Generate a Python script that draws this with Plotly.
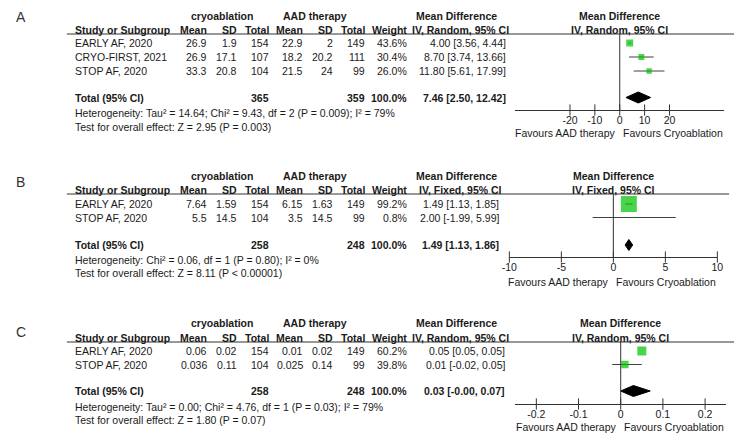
import plotly.graph_objects as go

W, H = 742, 442
FONT = "Liberation Sans, Arial, sans-serif"
TXT = "#1a1a1a"
GREEN = "#00c000"
FS = 10.5

# ---------------- data ----------------
# Panel A
A_studies = ["EARLY AF, 2020", "CRYO-FIRST, 2021", "STOP AF, 2020"]
A_cryo_mean = [26.9, 26.9, 33.3]
A_cryo_sd = [1.9, 17.1, 20.8]
A_cryo_n = [154, 107, 104]
A_aad_mean = [22.9, 18.2, 21.5]
A_aad_sd = [2, 20.2, 24]
A_aad_n = [149, 111, 99]
A_weight = [43.6, 30.4, 26.0]
A_md = [4.00, 8.70, 11.80]
A_lo = [3.56, 3.74, 5.61]
A_hi = [4.44, 13.66, 17.99]
A_total_n = [365, 359]
A_total_est = [7.46, 2.50, 12.42]
A_method = "IV, Random, 95% CI"
A_het = "Heterogeneity: Tau² = 14.64; Chi² = 9.43, df = 2 (P = 0.009); I² = 79%"
A_test = "Test for overall effect: Z = 2.95 (P = 0.003)"
A_ticks = [-20, -10, 0, 10, 20]

# Panel B
B_studies = ["EARLY AF, 2020", "STOP AF, 2020"]
B_cryo_mean = [7.64, 5.5]
B_cryo_sd = [1.59, 14.5]
B_cryo_n = [154, 104]
B_aad_mean = [6.15, 3.5]
B_aad_sd = [1.63, 14.5]
B_aad_n = [149, 99]
B_weight = [99.2, 0.8]
B_md = [1.49, 2.00]
B_lo = [1.13, -1.99]
B_hi = [1.85, 5.99]
B_total_n = [258, 248]
B_total_est = [1.49, 1.13, 1.86]
B_method = "IV, Fixed, 95% CI"
B_het = "Heterogeneity: Chi² = 0.06, df = 1 (P = 0.80); I² = 0%"
B_test = "Test for overall effect: Z = 8.11 (P < 0.00001)"
B_ticks = [-10, -5, 0, 5, 10]

# Panel C
C_studies = ["EARLY AF, 2020", "STOP AF, 2020"]
C_cryo_mean = [0.06, 0.036]
C_cryo_sd = [0.02, 0.11]
C_cryo_n = [154, 104]
C_aad_mean = [0.01, 0.025]
C_aad_sd = [0.02, 0.14]
C_aad_n = [149, 99]
C_weight = [60.2, 39.8]
C_md = [0.05, 0.01]
C_lo = [0.05, -0.02]
C_hi = [0.05, 0.05]
C_total_n = [258, 248]
C_total_est = [0.03, -0.0, 0.07]
C_method = "IV, Random, 95% CI"
C_het = "Heterogeneity: Tau² = 0.00; Chi² = 4.76, df = 1 (P = 0.03); I² = 79%"
C_test = "Test for overall effect: Z = 1.80 (P = 0.07)"
C_ticks = [-0.2, -0.1, 0, 0.1, 0.2]

favour_left = "Favours AAD therapy"
favour_right = "Favours Cryoablation"

# ---------------- panel configuration (data + layout) ----------------
panels = [
    dict(label="A", studies=A_studies, cm=A_cryo_mean, cs=A_cryo_sd, cn=A_cryo_n,
         am=A_aad_mean, asd=A_aad_sd, an=A_aad_n, w=A_weight, md=A_md, lo=A_lo, hi=A_hi,
         tn=A_total_n, te=A_total_est, method=A_method, het=A_het, test=A_test, ticks=A_ticks,
         ax="", y_lab=17, y_h1=16, y_h2=30, y_line=34, rows=[43, 57, 71],
         y_tot=97.5, y_het=113, y_test=127, y_axis=110, y_fav=133,
         dom=(517, 730), rng=(-42, 42), ci_right=508, line_right=740, k=1.06),
    dict(label="B", studies=B_studies, cm=B_cryo_mean, cs=B_cryo_sd, cn=B_cryo_n,
         am=B_aad_mean, asd=B_aad_sd, an=B_aad_n, w=B_weight, md=B_md, lo=B_lo, hi=B_hi,
         tn=B_total_n, te=B_total_est, method=B_method, het=B_het, test=B_test, ticks=B_ticks,
         ax="2", y_lab=182, y_h1=176, y_h2=190, y_line=194, rows=[204, 217.5],
         y_tot=245, y_het=260, y_test=273, y_axis=257, y_fav=282,
         dom=(511, 723), rng=(-10, 10), ci_right=500, line_right=735, k=1.6),
    dict(label="C", studies=C_studies, cm=C_cryo_mean, cs=C_cryo_sd, cn=C_cryo_n,
         am=C_aad_mean, asd=C_aad_sd, an=C_aad_n, w=C_weight, md=C_md, lo=C_lo, hi=C_hi,
         tn=C_total_n, te=C_total_est, method=C_method, het=C_het, test=C_test, ticks=C_ticks,
         ax="3", y_lab=332, y_h1=323, y_h2=338, y_line=342, rows=[351, 364.5],
         y_tot=391, y_het=407, y_test=420, y_axis=404, y_fav=427,
         dom=(517, 732), rng=(-0.25, 0.25), ci_right=507, line_right=740, k=1.16),
]

fig = go.Figure()
annotations = []
shapes = []
layout_axes = {}


def ann(text, x, y, anchor="left", bold=False, size=FS, xref="paper", xshift=0, color=TXT):
    if bold:
        text = "<b>" + text + "</b>"
    annotations.append(dict(
        text=text, x=(x / W if xref == "paper" else x), y=y, xref=xref, yref="y",
        xanchor=anchor, yanchor="middle", align=anchor, showarrow=False, xshift=xshift,
        borderpad=0, borderwidth=0,
        font=dict(family=FONT, size=size, color=color)))


def fmt_ci(e, l, h):
    return f"{e:.2f} [{l:.2f}, {h:.2f}]"


# column right edges (px)
X_STUDY = 68
X_CM, X_CS, X_CN = 203, 233, 266
X_AM, X_AS, X_AN = 301, 331, 364
X_W = 407

for p in panels:
    xa, ya = "x" + p["ax"], "y" + p["ax"]
    # panel letter
    ann(p["label"], 8, p["y_lab"], size=14, color="#333333")
    # group headers
    ann("cryoablation", 218, p["y_h1"], anchor="center", bold=True)
    ann("AAD therapy", 313, p["y_h1"], anchor="center", bold=True)
    ann("Mean Difference", 457, p["y_h1"], anchor="center", bold=True)
    ann(p["method"], 461, p["y_h2"], anchor="center", bold=True)
    # column headers
    ann("Study or Subgroup", X_STUDY, p["y_h2"], bold=True)
    for txt, xr in [("Mean", X_CM), ("SD", X_CS), ("Total", X_CN),
                    ("Mean", X_AM), ("SD", X_AS), ("Total", X_AN), ("Weight", X_W)]:
        ann(txt, xr, p["y_h2"], anchor="right", bold=True)
    # right-hand plot headers
    ann("Mean Difference", 0, p["y_h1"], anchor="center", bold=True, xref=xa)
    ann(p["method"], 0, p["y_h2"], anchor="center", bold=True, xref=xa)

    # study rows
    for i, name in enumerate(p["studies"]):
        y = p["rows"][i]
        ann(name, X_STUDY, y)
        ann(f"{p['cm'][i]:g}", X_CM, y, anchor="right")
        ann(f"{p['cs'][i]:g}", X_CS, y, anchor="right")
        ann(f"{p['cn'][i]}", X_CN, y, anchor="right")
        ann(f"{p['am'][i]:g}", X_AM, y, anchor="right")
        ann(f"{p['asd'][i]:g}", X_AS, y, anchor="right")
        ann(f"{p['an'][i]}", X_AN, y, anchor="right")
        ann(f"{p['w'][i]:.1f}%", X_W, y, anchor="right")
        ann(fmt_ci(p["md"][i], p["lo"][i], p["hi"][i]), p["ci_right"], y, anchor="right")

    # total row
    yt = p["y_tot"]
    ann("Total (95% CI)", X_STUDY, yt, bold=True)
    ann(f"{p['tn'][0]}", X_CN, yt, anchor="right", bold=True)
    ann(f"{p['tn'][1]}", X_AN, yt, anchor="right", bold=True)
    ann(f"{sum(p['w']):.1f}%", X_W, yt, anchor="right", bold=True)
    ann(fmt_ci(*p["te"]), p["ci_right"], yt, anchor="right", bold=True)
    ann(p["het"], X_STUDY, p["y_het"])
    ann(p["test"], X_STUDY, p["y_test"])

    # favours labels
    ann(favour_left, 0, p["y_fav"], anchor="right", xref=xa, xshift=-4)
    ann(favour_right, 0, p["y_fav"], anchor="left", xref=xa, xshift=3)

    # header rule
    shapes.append(dict(type="line", xref="paper", yref="y", x0=60 / W, x1=p["line_right"] / W,
                       y0=p["y_line"], y1=p["y_line"], line=dict(color="#333333", width=1)))
    # zero line
    shapes.append(dict(type="line", xref=xa, yref=ya, x0=0, x1=0,
                       y0=p["y_line"], y1=p["y_axis"], line=dict(color="#333333", width=1)))

    # CI whiskers
    cx, cy = [], []
    for i in range(len(p["studies"])):
        cx += [p["lo"][i], p["hi"][i], None]
        cy += [p["rows"][i], p["rows"][i], None]
    fig.add_trace(go.Scatter(x=cx, y=cy, mode="lines", xaxis=xa, yaxis=ya,
                             line=dict(color="#404040", width=1), hoverinfo="skip"))
    # weight squares
    sizes = [p["k"] * (w ** 0.5) for w in p["w"]]
    fig.add_trace(go.Scatter(x=p["md"], y=p["rows"], mode="markers", xaxis=xa, yaxis=ya,
                             marker=dict(symbol="square", size=sizes, color=GREEN,
                                         line=dict(width=0))))
    # pooled diamond
    e, l, h = p["te"]
    dh = 5.5
    fig.add_trace(go.Scatter(x=[l, e, h, e, l], y=[yt, yt - dh, yt, yt + dh, yt],
                             mode="lines", fill="toself", fillcolor="black", xaxis=xa, yaxis=ya,
                             line=dict(color="black", width=1)))
    # crossing tick marks
    fig.add_trace(go.Scatter(x=p["ticks"], y=[p["y_axis"]] * len(p["ticks"]), mode="markers",
                             xaxis=xa, yaxis=ya, cliponaxis=False,
                             marker=dict(symbol="line-ns", size=8,
                                         line=dict(color="#333333", width=1))))

    layout_axes["xaxis" + p["ax"]] = dict(
        domain=[p["dom"][0] / W, p["dom"][1] / W], range=list(p["rng"]),
        anchor="free", position=1 - p["y_axis"] / H,
        showline=True, linecolor="#333333", linewidth=1,
        tickvals=p["ticks"], ticktext=[f"{t:g}" for t in p["ticks"]],
        ticks="", showgrid=False, zeroline=False, fixedrange=True,
        tickfont=dict(family=FONT, size=FS, color=TXT))
    layout_axes["yaxis" + p["ax"]] = dict(
        range=[H, 0], domain=[0, 1], visible=False, fixedrange=True, anchor=xa,
        showgrid=False, zeroline=False)

fig.update_layout(
    width=W, height=H, margin=dict(l=0, r=0, t=0, b=0),
    paper_bgcolor="white", plot_bgcolor="rgba(0,0,0,0)", showlegend=False,
    annotations=annotations, shapes=shapes,
    **layout_axes,
)

fig.write_html("out.html")
